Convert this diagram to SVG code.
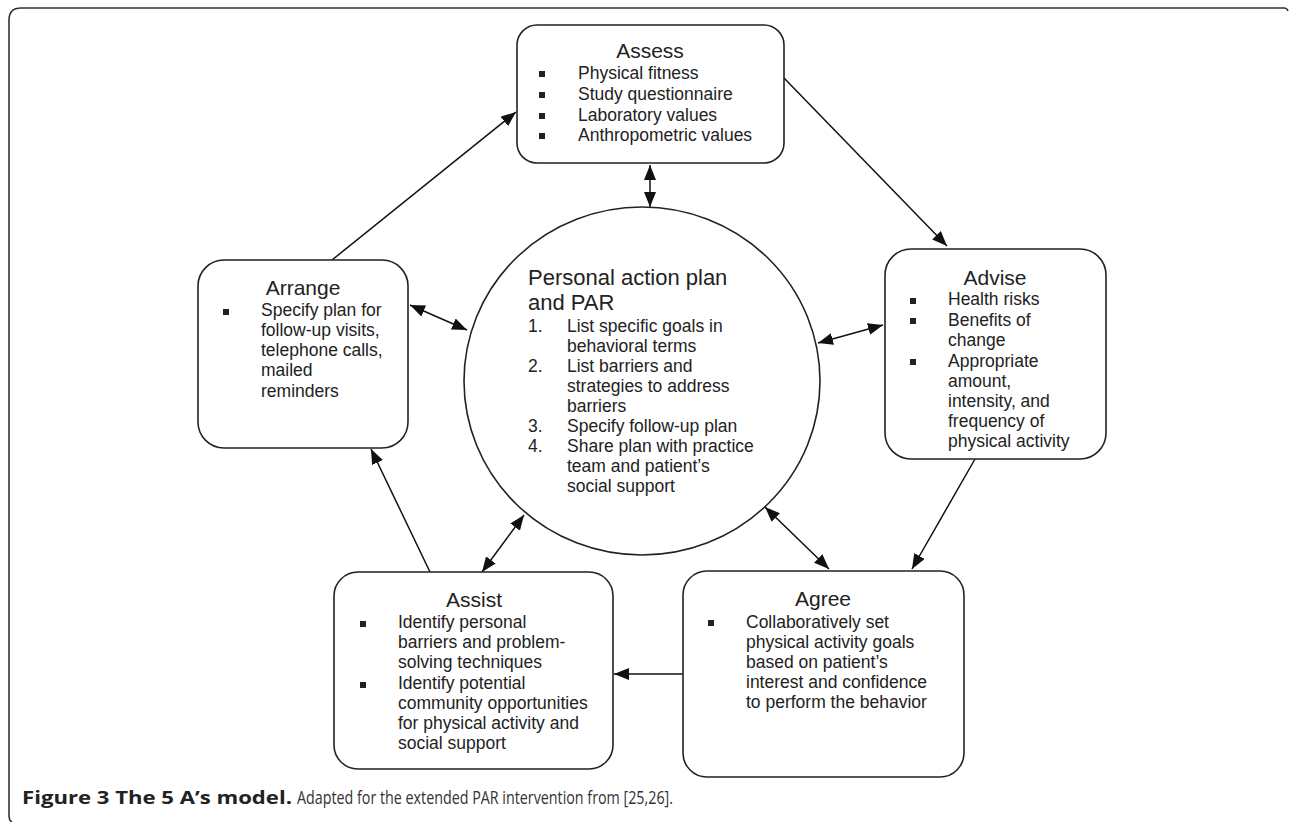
<svg xmlns="http://www.w3.org/2000/svg" width="1290" height="822" viewBox="0 0 1290 822">
<style>
.box{fill:#fff;stroke:#222;stroke-width:1.6}
.t{font-family:"Liberation Sans",Arial,sans-serif;fill:#222}
.h{font-size:21px;text-anchor:middle}
.b{font-size:17.5px}
.c{stroke:#111;stroke-width:1.5;fill:none}
.sq{fill:#222}
</style>
<defs>
<marker id="ah" markerUnits="userSpaceOnUse" markerWidth="15" markerHeight="12" refX="15" refY="6" orient="auto-start-reverse" viewBox="0 0 15 12">
<path d="M0,0 L15,6 L0,12 z" fill="#111"/>
</marker>
</defs>
<rect width="1290" height="822" fill="#fff"/>
<path d="M1288,11 Q1287,8 1284,8 L21,8 Q9,8 9,20 L9,815 Q9,821 12,822" fill="none" stroke="#333" stroke-width="1.6"/>

<g id="connectors">
<line class="c" x1="784" y1="78" x2="947" y2="246" marker-end="url(#ah)"/>
<line class="c" x1="975" y1="459" x2="912" y2="569" marker-end="url(#ah)"/>
<line class="c" x1="683" y1="674" x2="614" y2="674" marker-end="url(#ah)"/>
<line class="c" x1="430" y1="572" x2="371" y2="449" marker-end="url(#ah)"/>
<line class="c" x1="332" y1="260" x2="516" y2="112" marker-end="url(#ah)"/>
<line class="c" x1="650" y1="165" x2="650" y2="207" marker-start="url(#ah)" marker-end="url(#ah)"/>
<line class="c" x1="410" y1="305" x2="467" y2="330" marker-start="url(#ah)" marker-end="url(#ah)"/>
<line class="c" x1="818" y1="343" x2="883" y2="325" marker-start="url(#ah)" marker-end="url(#ah)"/>
<line class="c" x1="765" y1="507" x2="829" y2="569" marker-start="url(#ah)" marker-end="url(#ah)"/>
<line class="c" x1="524" y1="515" x2="482" y2="572" marker-start="url(#ah)" marker-end="url(#ah)"/>
</g>

<g id="plan">
<ellipse class="box" cx="642" cy="381" rx="178" ry="174"/>
<text class="t" font-size="22" x="528" y="285">Personal action plan</text>
<text class="t" font-size="22" x="528" y="310">and PAR</text>
<g class="t b">
<text x="528" y="332">1.</text><text x="567" y="332">List specific goals in</text>
<text x="567" y="352">behavioral terms</text>
<text x="528" y="372">2.</text><text x="567" y="372">List barriers and</text>
<text x="567" y="392">strategies to address</text>
<text x="567" y="412">barriers</text>
<text x="528" y="432">3.</text><text x="567" y="432">Specify follow-up plan</text>
<text x="528" y="452">4.</text><text x="567" y="452">Share plan with practice</text>
<text x="567" y="472">team and patient’s</text>
<text x="567" y="492">social support</text>
</g>
</g>

<g id="assess">
<rect class="box" x="517" y="25" width="267" height="138" rx="20"/>
<text class="t h" x="650" y="58">Assess</text>
<rect class="sq" x="539" y="71" width="6" height="6"/>
<rect class="sq" x="539" y="92" width="6" height="6"/>
<rect class="sq" x="539" y="113" width="6" height="6"/>
<rect class="sq" x="539" y="133" width="6" height="6"/>
<g class="t b">
<text x="578" y="79">Physical fitness</text>
<text x="578" y="100">Study questionnaire</text>
<text x="578" y="121">Laboratory values</text>
<text x="578" y="141">Anthropometric values</text>
</g>
</g>

<g id="advise">
<rect class="box" x="885" y="249" width="221" height="210" rx="26"/>
<text class="t h" x="995" y="285">Advise</text>
<rect class="sq" x="910" y="298" width="6" height="6"/>
<rect class="sq" x="910" y="318" width="6" height="6"/>
<rect class="sq" x="910" y="359" width="6" height="6"/>
<g class="t b">
<text x="948" y="305">Health risks</text>
<text x="948" y="326">Benefits of</text>
<text x="948" y="346">change</text>
<text x="948" y="367">Appropriate</text>
<text x="948" y="387">amount,</text>
<text x="948" y="407">intensity, and</text>
<text x="948" y="427">frequency of</text>
<text x="948" y="447">physical activity</text>
</g>
</g>

<g id="arrange">
<rect class="box" x="198" y="260" width="210" height="188" rx="26"/>
<text class="t h" x="303" y="295">Arrange</text>
<rect class="sq" x="223" y="309" width="6" height="6"/>
<g class="t b">
<text x="261" y="316">Specify plan for</text>
<text x="261" y="336">follow-up visits,</text>
<text x="261" y="356">telephone calls,</text>
<text x="261" y="376">mailed</text>
<text x="261" y="397">reminders</text>
</g>
</g>

<g id="assist">
<rect class="box" x="334" y="572" width="279" height="197" rx="24"/>
<text class="t h" x="474" y="607">Assist</text>
<rect class="sq" x="360" y="621" width="6" height="6"/>
<rect class="sq" x="360" y="682" width="6" height="6"/>
<g class="t b">
<text x="398" y="628">Identify personal</text>
<text x="398" y="648">barriers and problem-</text>
<text x="398" y="668">solving techniques</text>
<text x="398" y="689">Identify potential</text>
<text x="398" y="709">community opportunities</text>
<text x="398" y="729">for physical activity and</text>
<text x="398" y="749">social support</text>
</g>
</g>

<g id="agree">
<rect class="box" x="683" y="571" width="281" height="206" rx="24"/>
<text class="t h" x="823" y="606">Agree</text>
<rect class="sq" x="708" y="620" width="6" height="6"/>
<g class="t b">
<text x="746" y="628">Collaboratively set</text>
<text x="746" y="648">physical activity goals</text>
<text x="746" y="668">based on patient’s</text>
<text x="746" y="688">interest and confidence</text>
<text x="746" y="708">to perform the behavior</text>
</g>
</g>

<g id="caption">
<text x="22" y="804" font-family="'Open Sans',sans-serif" font-size="18.5" font-weight="bold" fill="#222" textLength="270" lengthAdjust="spacingAndGlyphs">Figure 3 The 5 A’s model.</text>
<text x="297" y="804" font-family="'Open Sans',sans-serif" font-size="18.5" fill="#333" textLength="376" lengthAdjust="spacingAndGlyphs">Adapted for the extended PAR intervention from [25,26].</text>
</g>
</svg>
